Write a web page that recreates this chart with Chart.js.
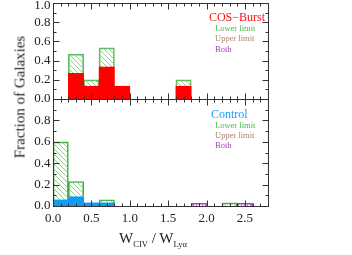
<!DOCTYPE html>
<html>
<head>
<meta charset="utf-8">
<script src="https://cdn.jsdelivr.net/npm/chart.js@4/dist/chart.umd.min.js"></script>
<style>
  body { margin: 0; background: #fff; }
  #wrap { position: relative; width: 352px; height: 255px; font-family: "Liberation Serif", "DejaVu Serif", serif; }
  canvas { position: absolute; left: 0; top: 0; }
  .lbl { position: absolute; white-space: nowrap; line-height: 1; transform: translateY(-50%); }
</style>
</head>
<body>
<div id="wrap">
  <canvas id="topChart" width="352" height="255"></canvas>
  <canvas id="botChart" width="352" height="255"></canvas>

  <div class="lbl" style="right:87px; top:17px; font-size:12px; color:#ff1010;">COS&minus;Burst</div>
  <div class="lbl" style="left:215px; top:28px; font-size:8.5px; color:#4cb84c;">Lower limit</div>
  <div class="lbl" style="left:215px; top:38px; font-size:8.5px; color:#b08272;">Upper limit</div>
  <div class="lbl" style="left:215px; top:48.5px; font-size:8.5px; color:#a838c0;">Both</div>

  <div class="lbl" style="left:211px; top:114px; font-size:12px; color:#1e9cff;">Control</div>
  <div class="lbl" style="left:215px; top:125px; font-size:8.5px; color:#4cb84c;">Lower limit</div>
  <div class="lbl" style="left:215px; top:135px; font-size:8.5px; color:#b08272;">Upper limit</div>
  <div class="lbl" style="left:215px; top:145px; font-size:8.5px; color:#a838c0;">Both</div>

  <div style="position:absolute; left:20px; top:97px; transform:translate(-50%,-50%) rotate(-90deg); white-space:nowrap; font-size:15px; color:#222;">Fraction of Galaxies</div>
  <div style="position:absolute; left:153px; top:239px; transform:translate(-50%,-50%); white-space:nowrap; font-size:15px; color:#222;">W<sub style="font-size:8.5px;">CIV</sub> / W<sub style="font-size:8.5px;">Lyα</sub></div>
</div>

<script>
// bin centres, bin width 0.2, x range 0 - 2.8
var binCenters = [0.1, 0.3, 0.5, 0.7, 0.9, 1.1, 1.3, 1.5, 1.7, 1.9, 2.1, 2.3, 2.5, 2.7];

// COS-Burst (15 galaxies)
var burstDet   = [null, 0.267, 0.133, 0.333, 0.133, null, null, null, 0.133, null, null, null, null, null];
var burstLower = [null, 0.200, 0.067, 0.200, null, null, null, null, 0.067, null, null, null, null, null];

// Control
var controlDet   = [0.057, 0.086, 0.029, 0.029, null, null, null, null, null, null, null, null, null, null];
var controlLower = [0.543, 0.143, null, 0.029, null, null, null, null, null, null, null, 0.029, null, null];
var controlBoth  = [null, null, null, null, null, null, null, null, null, 0.026, null, null, 0.026, null];

var yTicksTop = ['0.0', '0.2', '0.4', '0.6', '0.8', '1.0'];
var yTicksBot = ['0.0', '0.2', '0.4', '0.6', '0.8'];
var xTicks = ['0.0', '0.5', '1.0', '1.5', '2.0', '2.5'];

function pts(vals) {
  return binCenters.map(function (c, i) { return { x: c, y: vals[i] }; });
}

function hatch(color, kind) {
  var c = document.createElement('canvas');
  c.width = kind === 'diag' ? 5 : 3;
  c.height = kind === 'diag' ? 5 : 3;
  var g = c.getContext('2d');
  g.strokeStyle = color;
  g.lineWidth = 1;
  g.beginPath();
  if (kind === 'diag') {
    g.moveTo(-1, -1); g.lineTo(6, 6);
    g.moveTo(-1, 4); g.lineTo(1, 6);
    g.moveTo(4, -1); g.lineTo(6, 1);
  } else {
    g.moveTo(1.5, 0); g.lineTo(1.5, 3);
  }
  g.stroke();
  return g.createPattern(c, 'repeat');
}

var greenHatch = hatch('#8fd08f', 'diag');
var purpleHatch = hatch('#c070d0', 'vert');

// IDL style box with inward ticks
var boxAxes = {
  id: 'boxAxes',
  afterDraw: function (chart, args, opts) {
    var ctx = chart.ctx, a = chart.chartArea;
    var xs = chart.scales.x, ys = chart.scales.y;
    var L = Math.round(a.left) + 0.5, R = Math.round(a.right) + 0.5;
    var T = Math.round(a.top) + 0.5, B = Math.round(a.bottom) + 0.5;
    ctx.save();
    ctx.strokeStyle = '#333';
    ctx.lineWidth = 1;
    ctx.strokeRect(L, T, R - L, B - T);
    ctx.beginPath();
    var v, p, len;
    for (v = 0; v <= 1.0001; v += 0.1) {
      p = Math.round(ys.getPixelForValue(v)) + 0.5;
      len = (Math.round(v * 10) % 2 === 0) ? 6 : 3;
      ctx.moveTo(L, p); ctx.lineTo(L + len, p);
      ctx.moveTo(R, p); ctx.lineTo(R - len, p);
    }
    for (v = 0; v <= 2.8001; v += 0.1) {
      p = Math.round(xs.getPixelForValue(v)) + 0.5;
      len = (Math.round(v * 10) % 5 === 0) ? 6 : 3;
      ctx.moveTo(p, B); ctx.lineTo(p, B - len);
      ctx.moveTo(p, T); ctx.lineTo(p, T + len);
    }
    ctx.stroke();

    ctx.fillStyle = '#222';
    ctx.font = '13px "Liberation Serif", serif';
    ctx.textAlign = 'right';
    ctx.textBaseline = 'middle';
    opts.yLabels.forEach(function (t) {
      ctx.fillText(t, L - 3, Math.max(6, ys.getPixelForValue(parseFloat(t))));
    });
    if (opts.xLabels) {
      ctx.textAlign = 'center';
      ctx.textBaseline = 'top';
      opts.xLabels.forEach(function (t) {
        ctx.fillText(t, xs.getPixelForValue(parseFloat(t)), B + 6);
      });
    }
    ctx.restore();
  }
};

function makeChart(id, datasets, pad, yLabels, xLabels) {
  return new Chart(document.getElementById(id), {
    type: 'bar',
    data: { datasets: datasets },
    options: {
      responsive: false,
      animation: false,
      layout: { padding: pad },
      plugins: {
        legend: { display: false },
        tooltip: { enabled: false },
        boxAxes: { yLabels: yLabels, xLabels: xLabels }
      },
      datasets: { bar: { barPercentage: 1, categoryPercentage: 1 } },
      scales: {
        x: { type: 'linear', min: 0, max: 2.8, offset: false, stacked: true, display: false },
        y: { min: 0, max: 1.0, stacked: true, display: false }
      }
    },
    plugins: [boxAxes]
  });
}

makeChart('topChart', [
  { data: pts(burstDet), backgroundColor: '#ff0000', borderWidth: 0 },
  { data: pts(burstLower), backgroundColor: greenHatch, borderColor: '#5cbc5c', borderWidth: 1, borderSkipped: 'bottom' }
], { left: 53, right: 84, top: 3, bottom: 156 }, yTicksTop, null);

makeChart('botChart', [
  { data: pts(controlDet), backgroundColor: '#109cf0', borderWidth: 0 },
  { data: pts(controlLower), backgroundColor: greenHatch, borderColor: '#3cb43c', borderWidth: 1, borderSkipped: 'bottom' },
  { data: pts(controlBoth), backgroundColor: purpleHatch, borderColor: '#b040c8', borderWidth: 1, borderSkipped: 'bottom' }
], { left: 53, right: 84, top: 99, bottom: 49 }, yTicksBot, xTicks);
</script>
</body>
</html>
